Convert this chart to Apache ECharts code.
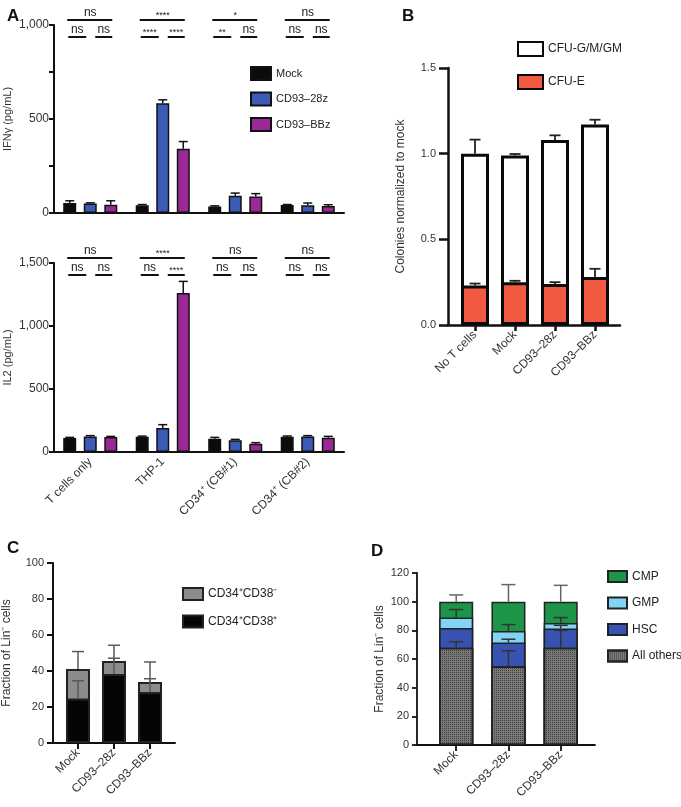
<!DOCTYPE html>
<html>
<head>
<meta charset="utf-8">
<script src="https://cdn.jsdelivr.net/npm/echarts@6/dist/echarts.min.js"></script>
<style>
html, body { margin: 0; padding: 0; background: #fff; }
#main { width: 681px; height: 807px; }
</style>
</head>
<body>
<div id="main"></div>
<script>
// ---- panel A data ----
var groupsA = ['T cells only', 'THP-1', 'CD34⁺ (CB#1)', 'CD34⁺ (CB#2)'];
var carNames = ['Mock', 'CD93–28z', 'CD93–BBz'];

var ifnMock = [53, 41, 35, 42];
var ifnMockSd = [12, 4, 3, 3];
var ifn28z = [50, 584, 92, 41];
var ifn28zSd = [4, 18, 14, 12];
var ifnBBz = [44, 342, 88, 37];
var ifnBBzSd = [21, 38, 15, 7];
var ifnSigTop = ['ns', '****', '*', 'ns'];
var ifnSigLeft = ['ns', '****', '**', 'ns'];
var ifnSigRight = ['ns', '****', 'ns', 'ns'];

var il2Mock = [111, 122, 106, 122];
var il2MockSd = [5, 4, 10, 5];
var il228z = [124, 190, 93, 124];
var il228zSd = [6, 27, 7, 6];
var il2BBz = [119, 1262, 66, 114];
var il2BBzSd = [5, 92, 8, 10];
var il2SigTop = ['ns', '****', 'ns', 'ns'];
var il2SigLeft = ['ns', 'ns', 'ns', 'ns'];
var il2SigRight = ['ns', '****', 'ns', 'ns'];

// ---- panel B data (stacked segments) ----
var groupsB = ['No T cells', 'Mock', 'CD93–28z', 'CD93–BBz'];
var cfuE = [0.23, 0.25, 0.24, 0.28];
var cfuESd = [0.012, 0.008, 0.01, 0.048];
var cfuGM = [0.77, 0.74, 0.84, 0.89];
var cfuTotalSd = [0.082, 0.008, 0.027, 0.028];

// ---- panel C data (stacked segments) ----
var groupsCD = ['Mock', 'CD93–28z', 'CD93–BBz'];
var cd38pos = [24.7, 38.3, 28.4];
var cd38posSd = [9.9, 8.8, 7.3];
var cd38neg = [16.4, 7.3, 5.5];
var cd38negSd = [9.7, 8.7, 11.1];

// ---- panel D data (stacked segments) ----
var allOthers = [67.8, 55, 67.8];
var allOthersSd = [4.2, 10.7, 12.2];
var hsc = [13.9, 16.5, 13.4];
var hscSd = [null, 2.3, 2.3];
var gmp = [7.2, 8.1, 4];
var gmpSd = [5.6, 4.4, 3.7];
var cmp = [11.1, 20.4, 14.8];
var cmpSd = [4.7, 11.9, 11.4];

var FONT = 'Liberation Sans, Arial, Helvetica, sans-serif';
var chart = echarts.init(document.getElementById('main'));

function idx(arr) { return arr.map(function (v, i) { return i; }); }
function pairs(xs, vs) { return vs.map(function (v, i) { return [xs[i], v]; }); }
// running top of a stack: sum of the segments below and including this one
function addUp() {
  var lists = Array.prototype.slice.call(arguments);
  return lists[0].map(function (v, i) {
    var s = 0;
    lists.forEach(function (l) { s += l[i]; });
    return s;
  });
}

function errSeries(xi, yi, xs, tops, sds, dx, capW, color, lw) {
  return {
    type: 'custom', xAxisIndex: xi, yAxisIndex: yi, silent: true, z: 6,
    data: tops.map(function (t, i) { return [xs[i], t, sds[i] == null ? t : t + sds[i]]; }),
    encode: { x: 0, y: [1, 2] },
    renderItem: function (params, api) {
      var a = api.coord([api.value(0), api.value(1)]);
      var b = api.coord([api.value(0), api.value(2)]);
      if (a[1] - b[1] < 0.5) return null;
      var x = a[0] + dx;
      return {
        type: 'group', children: [
          { type: 'line', shape: { x1: x, y1: a[1], x2: x, y2: b[1] }, style: { stroke: color, lineWidth: lw } },
          { type: 'line', shape: { x1: x - capW / 2, y1: b[1], x2: x + capW / 2, y2: b[1] }, style: { stroke: color, lineWidth: lw } }
        ]
      };
    }
  };
}

function sigSeries(xi, yi, yMax, top, left, right) {
  return {
    type: 'custom', xAxisIndex: xi, yAxisIndex: yi, silent: true, z: 6,
    data: top.map(function (t, i) { return [i, yMax]; }),
    encode: { x: 0, y: 1 },
    renderItem: function (params, api) {
      var i = params.dataIndex;
      var p = api.coord([api.value(0), api.value(1)]);
      var cx = p[0], y = p[1];
      function line(x1, x2, yy) {
        return { type: 'line', shape: { x1: x1, y1: yy, x2: x2, y2: yy }, style: { stroke: '#111', lineWidth: 2 } };
      }
      function txt(s, x, yy) {
        var star = s.indexOf('*') >= 0;
        return {
          type: 'text',
          style: {
            text: s, x: x, y: star ? yy + 3 : yy, align: 'center', verticalAlign: 'middle',
            font: (star ? '9px ' : '12px ') + FONT, fill: '#222'
          }
        };
      }
      return {
        type: 'group', children: [
          line(cx - 23, cx + 22, y - 5), txt(top[i], cx, y - 12),
          line(cx - 22, cx - 4, y + 12), txt(left[i], cx - 13, y + 5),
          line(cx + 5, cx + 22, y + 12), txt(right[i], cx + 13.5, y + 5)
        ]
      };
    }
  };
}

function barA(name, yi, data, color) {
  return {
    name: name, type: 'bar', xAxisIndex: yi, yAxisIndex: yi, data: data,
    barWidth: 13, barGap: '58%',
    itemStyle: { color: color, borderColor: '#111', borderWidth: 1.5 }
  };
}

// stacked panels: each segment is drawn as a bar up to its running top,
// upper segments first so the lower ones sit over them
function stackBar(name, grid, xs, tops, w, style) {
  return {
    name: name, type: 'bar', xAxisIndex: grid, yAxisIndex: grid, barWidth: w, barGap: '-100%',
    data: pairs(xs, tops), itemStyle: style
  };
}

var axisLineStyle = { color: '#111', width: 2 };

function catAxisA(grid, showLabels) {
  return {
    type: 'category', gridIndex: grid, data: groupsA,
    axisLine: { lineStyle: axisLineStyle },
    axisTick: { alignWithLabel: true, length: 5, lineStyle: axisLineStyle },
    axisLabel: showLabels ? { rotate: 45, fontSize: 12, color: '#333', fontFamily: FONT, margin: 8, interval: 0 } : { show: false }
  };
}

function valueXAxis(grid, cats, min, max, lw) {
  var ticks = idx(cats);
  return {
    type: 'value', gridIndex: grid, min: min, max: max,
    splitLine: { show: false },
    axisLine: { onZero: false, lineStyle: { color: '#111', width: lw } },
    axisTick: { customValues: ticks, length: 6, lineStyle: { color: '#111', width: lw } },
    axisLabel: {
      customValues: ticks, rotate: 45, fontSize: 12, color: '#333', fontFamily: FONT, margin: 8,
      formatter: function (v) { return cats[Math.round(v)]; }
    }
  };
}

function yAxis(grid, max, interval, name, gap, lw, fmt, nameSize, labelSize, tickLen, margin) {
  return {
    type: 'value', gridIndex: grid, min: 0, max: max, interval: interval,
    name: name, nameLocation: 'middle', nameGap: gap,
    nameTextStyle: { fontSize: nameSize || 12, color: '#333', fontFamily: FONT },
    splitLine: { show: false },
    axisLine: { show: true, onZero: false, lineStyle: { color: '#111', width: lw } },
    axisTick: { show: true, length: tickLen || 5, lineStyle: { color: '#111', width: lw } },
    axisLabel: { fontSize: labelSize || 11, color: '#333', fontFamily: FONT, margin: margin || 4, formatter: fmt }
  };
}

var xsB = idx(groupsB);
var xsCD = idx(groupsCD);
var xsA = idx(groupsA);

var bTop = addUp(cfuE, cfuGM);
var cTop = addUp(cd38pos, cd38neg);
var dHsc = addUp(allOthers, hsc);
var dGmp = addUp(allOthers, hsc, gmp);
var dCmp = addUp(allOthers, hsc, gmp, cmp);

var series = [
  barA('Mock', 0, ifnMock, '#0b0b0b'),
  barA('CD93–28z', 0, ifn28z, '#3b5bb7'),
  barA('CD93–BBz', 0, ifnBBz, '#9a2996'),
  errSeries(0, 0, xsA, ifnMock, ifnMockSd, -20.5, 9, '#111', 1.5),
  errSeries(0, 0, xsA, ifn28z, ifn28zSd, 0, 9, '#111', 1.5),
  errSeries(0, 0, xsA, ifnBBz, ifnBBzSd, 20.5, 9, '#111', 1.5),
  sigSeries(0, 0, 1000, ifnSigTop, ifnSigLeft, ifnSigRight),

  barA('Mock', 1, il2Mock, '#0b0b0b'),
  barA('CD93–28z', 1, il228z, '#3b5bb7'),
  barA('CD93–BBz', 1, il2BBz, '#9a2996'),
  errSeries(1, 1, xsA, il2Mock, il2MockSd, -20.5, 9, '#111', 1.5),
  errSeries(1, 1, xsA, il228z, il228zSd, 0, 9, '#111', 1.5),
  errSeries(1, 1, xsA, il2BBz, il2BBzSd, 20.5, 9, '#111', 1.5),
  sigSeries(1, 1, 1500, il2SigTop, il2SigLeft, il2SigRight),

  stackBar('CFU-G/M/GM', 2, xsB, bTop, 28, { color: '#ffffff', borderColor: '#0a0a0a', borderWidth: 3 }),
  stackBar('CFU-E', 2, xsB, cfuE, 28, { color: '#f15a40', borderColor: '#0a0a0a', borderWidth: 3 }),
  errSeries(2, 2, xsB, cfuE, cfuESd, 0, 11, '#222', 1.8),
  errSeries(2, 2, xsB, bTop, cfuTotalSd, 0, 11, '#222', 1.8),

  stackBar('CD34⁺CD38⁻', 3, xsCD, cTop, 24, { color: '#8c8c8c', borderColor: '#222', borderWidth: 2 }),
  stackBar('CD34⁺CD38⁺', 3, xsCD, cd38pos, 24, { color: '#050505', borderColor: '#222', borderWidth: 2 }),
  errSeries(3, 3, xsCD, cd38pos, cd38posSd, 0, 12, '#5a5a5a', 1.5),
  errSeries(3, 3, xsCD, cTop, cd38negSd, 0, 12, '#5a5a5a', 1.5),

  stackBar('CMP', 4, xsCD, dCmp, 34, { color: '#1c9548', borderColor: '#222', borderWidth: 1.5 }),
  stackBar('GMP', 4, xsCD, dGmp, 34, { color: '#82d4f4', borderColor: '#222', borderWidth: 1.5 }),
  stackBar('HSC', 4, xsCD, dHsc, 34, { color: '#3752b0', borderColor: '#222', borderWidth: 1.5 }),
  stackBar('All others', 4, xsCD, allOthers, 34, {
    color: '#7a7a7a', borderColor: '#222', borderWidth: 1.5,
    decal: { symbol: 'rect', symbolSize: 1, color: '#3c3c3c', dashArrayX: [1, 1], dashArrayY: [1, 1] }
  }),
  errSeries(4, 4, xsCD, allOthers, allOthersSd, 0, 14, '#333', 1.5),
  errSeries(4, 4, xsCD, dHsc, hscSd, 0, 14, '#333', 1.5),
  errSeries(4, 4, xsCD, dGmp, gmpSd, 0, 14, '#333', 1.5),
  errSeries(4, 4, xsCD, dCmp, cmpSd, 0, 14, '#666', 1.5)
];

function letter(t, l, tp) {
  return { text: t, left: l, top: tp, textStyle: { fontSize: 17, fontWeight: 'bold', color: '#111', fontFamily: FONT } };
}

function legend(names, left, top, w, h, gap, size) {
  return {
    data: names, orient: 'vertical', left: left, top: top, itemWidth: w, itemHeight: h, itemGap: gap,
    icon: 'rect', selectedMode: false, padding: 0,
    textStyle: { fontSize: size, color: '#222', fontFamily: FONT }
  };
}

var thousands = function (v) { return v.toLocaleString('en-US'); };
var ifnFmt = function (v) { return v % 500 === 0 ? v.toLocaleString('en-US') : ''; };

chart.setOption({
  animation: false,
  backgroundColor: '#fff',
  title: [letter('A', 2, 3), letter('B', 397, 3), letter('C', 2, 535), letter('D', 366, 538)],
  legend: [
    legend(carNames, 250, 66, 20, 13, 10.5, 11),
    legend(['CFU-G/M/GM', 'CFU-E'], 517, 41, 25, 14, 17, 12),
    legend(['CD34⁺CD38⁻', 'CD34⁺CD38⁺'], 182, 587, 20, 12, 13.5, 12),
    legend(['CMP', 'GMP', 'HSC', 'All others'], 607, 570, 19, 11, 13.5, 12)
  ],
  grid: [
    { left: 54, top: 25, width: 290, height: 188 },
    { left: 54, top: 263, width: 290, height: 189 },
    { left: 448, top: 68, width: 172, height: 257 },
    { left: 53, top: 563, width: 122, height: 180 },
    { left: 417, top: 573, width: 178, height: 172 }
  ],
  xAxis: [
    catAxisA(0, false),
    catAxisA(1, true),
    valueXAxis(2, groupsB, -0.675, 3.625, 2.5),
    valueXAxis(3, groupsCD, -0.694, 2.694, 2),
    valueXAxis(4, groupsCD, -0.75, 2.656, 1.8)
  ],
  yAxis: [
    yAxis(0, 1000, 250, 'IFNγ (pg/mL)', 41, 2, ifnFmt, 11, 12, 5, 5),
    yAxis(1, 1500, 500, 'IL2 (pg/mL)', 41, 2, thousands, 11, 12, 5, 5),
    yAxis(2, 1.5, 0.5, 'Colonies normalized to mock', 41, 2.5, function (v) { return v.toFixed(1); }, 12, 11, 9, 12),
    yAxis(3, 100, 20, 'Fraction of Lin⁻ cells', 40, 2, null, 12, 11, 6, 9),
    yAxis(4, 120, 20, 'Fraction of Lin⁻ cells', 31, 1.8, null, 12, 11, 5, 8)
  ],
  series: series
});
</script>
</body>
</html>
